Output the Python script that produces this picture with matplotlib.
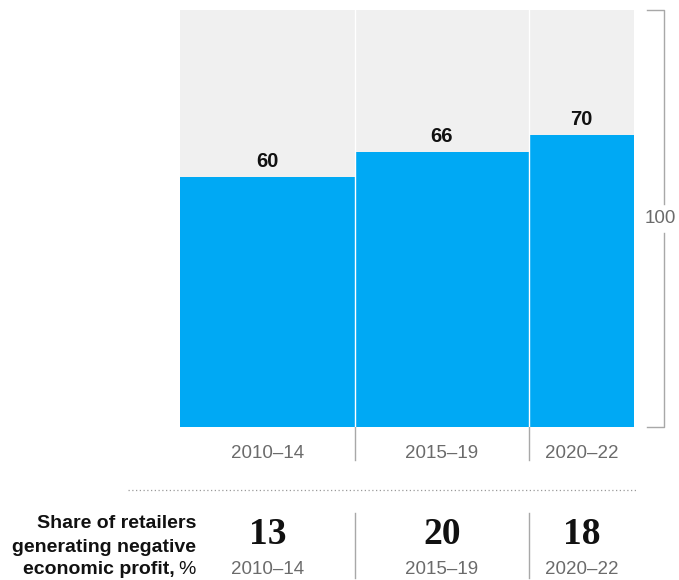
import matplotlib
matplotlib.use("Agg")
import matplotlib.pyplot as plt
from matplotlib.transforms import blended_transform_factory

# ---- data ----
periods = ["2010–14", "2015–19", "2020–22"]
period_start = [2010, 2015, 2020]
period_end = [2015, 2020, 2023]
share_values = [60, 66, 70]
negative_profit = [13, 20, 18]
total_value = 100

W, H = 679, 580
fig = plt.figure(figsize=(W / 100, H / 100), dpi=100)
fig.patch.set_facecolor("white")

def fy(ypix):
    return 1 - ypix / H

ax = fig.add_axes([180 / W, fy(427), (634 - 180) / W, (427 - 10) / H])
ax.set_xlim(period_start[0], period_end[-1])
ax.set_ylim(0, total_value)
ax.axis("off")

blue = "#00a9f4"
bg = "#f0f0f0"
gray_txt = "#6b6b6b"
line_gray = "#a8a8a8"
sans = ["Liberation Sans", "DejaVu Sans"]
serif = ["Liberation Serif", "DejaVu Serif"]

widths = [e - s for s, e in zip(period_start, period_end)]
centers = [s + w / 2 for s, w in zip(period_start, widths)]

ax.bar(period_start, [total_value] * 3, width=widths, align="edge",
       color=bg, linewidth=0)
ax.bar(period_start, share_values, width=widths, align="edge",
       color=blue, linewidth=0)

for c, v in zip(centers, share_values):
    ax.text(c, v + 1.4, str(v), ha="center", va="bottom", fontsize=14.5,
            fontweight="bold", color="#111111", family=sans)

# separators
for s in period_start[1:]:
    ax.plot([s, s], [0, total_value], color="white", lw=1.0, zorder=3)
    ax.plot([s, s], [0, -7.9], color=line_gray, lw=1.0, clip_on=False)

# x labels
for c, p in zip(centers, periods):
    ax.text(c, -6.3, p, ha="center", va="center", fontsize=13.5,
            color=gray_txt, family=sans)

# bracket on the right
tr_px = blended_transform_factory(fig.transFigure, ax.transData)
xb = 664 / W
xt = 647 / W
ax.plot([xt, xb, xb], [total_value, total_value, 53.5], color=line_gray,
        lw=1.0, transform=tr_px, clip_on=False)
ax.plot([xb, xb, xt], [46.5, 0, 0], color=line_gray, lw=1.0,
        transform=tr_px, clip_on=False)
ax.text(660 / W, 50, str(total_value), ha="center", va="center",
        fontsize=13.5, color=gray_txt, family=sans, transform=tr_px)

# dotted divider
tr_b = blended_transform_factory(fig.transFigure, fig.transFigure)
fig.add_artist(plt.Line2D([128 / W, 637 / W], [fy(490), fy(490)],
                          color="#9a9a9a", lw=0.9, linestyle=(0, (1, 2)),
                          transform=tr_b))

# bottom row
tr_dx = blended_transform_factory(ax.transData, fig.transFigure)
for c, n, p in zip(centers, negative_profit, periods):
    ax.text(c, fy(535), str(n), ha="center", va="center", fontsize=27,
            fontweight="bold", color="#111111", family=serif,
            transform=tr_dx)
    ax.text(c, fy(569), p, ha="center", va="center", fontsize=13.5,
            color=gray_txt, family=sans, transform=tr_dx)
for s in period_start[1:]:
    fig.add_artist(plt.Line2D([s, s], [fy(513), fy(578)], color=line_gray,
                              lw=1.0, transform=tr_dx))

# left label
fs_lab = 14
fig.text(196 / W, fy(524), "Share of retailers", ha="right", va="center",
         fontsize=fs_lab, fontweight="bold", color="#111111", family=sans)
fig.text(196 / W, fy(547), "generating negative", ha="right", va="center",
         fontsize=fs_lab, fontweight="bold", color="#111111", family=sans)
pct = fig.text(196 / W, fy(570), "%", ha="right", va="center",
               fontsize=fs_lab, color="#111111", family=sans)
fig.canvas.draw()
bb = pct.get_window_extent()
fig.text(bb.x0 / W - 4 / W, fy(570), "economic profit,", ha="right",
         va="center", fontsize=fs_lab, fontweight="bold", color="#111111",
         family=sans)

fig.savefig("out.png", dpi=100)
